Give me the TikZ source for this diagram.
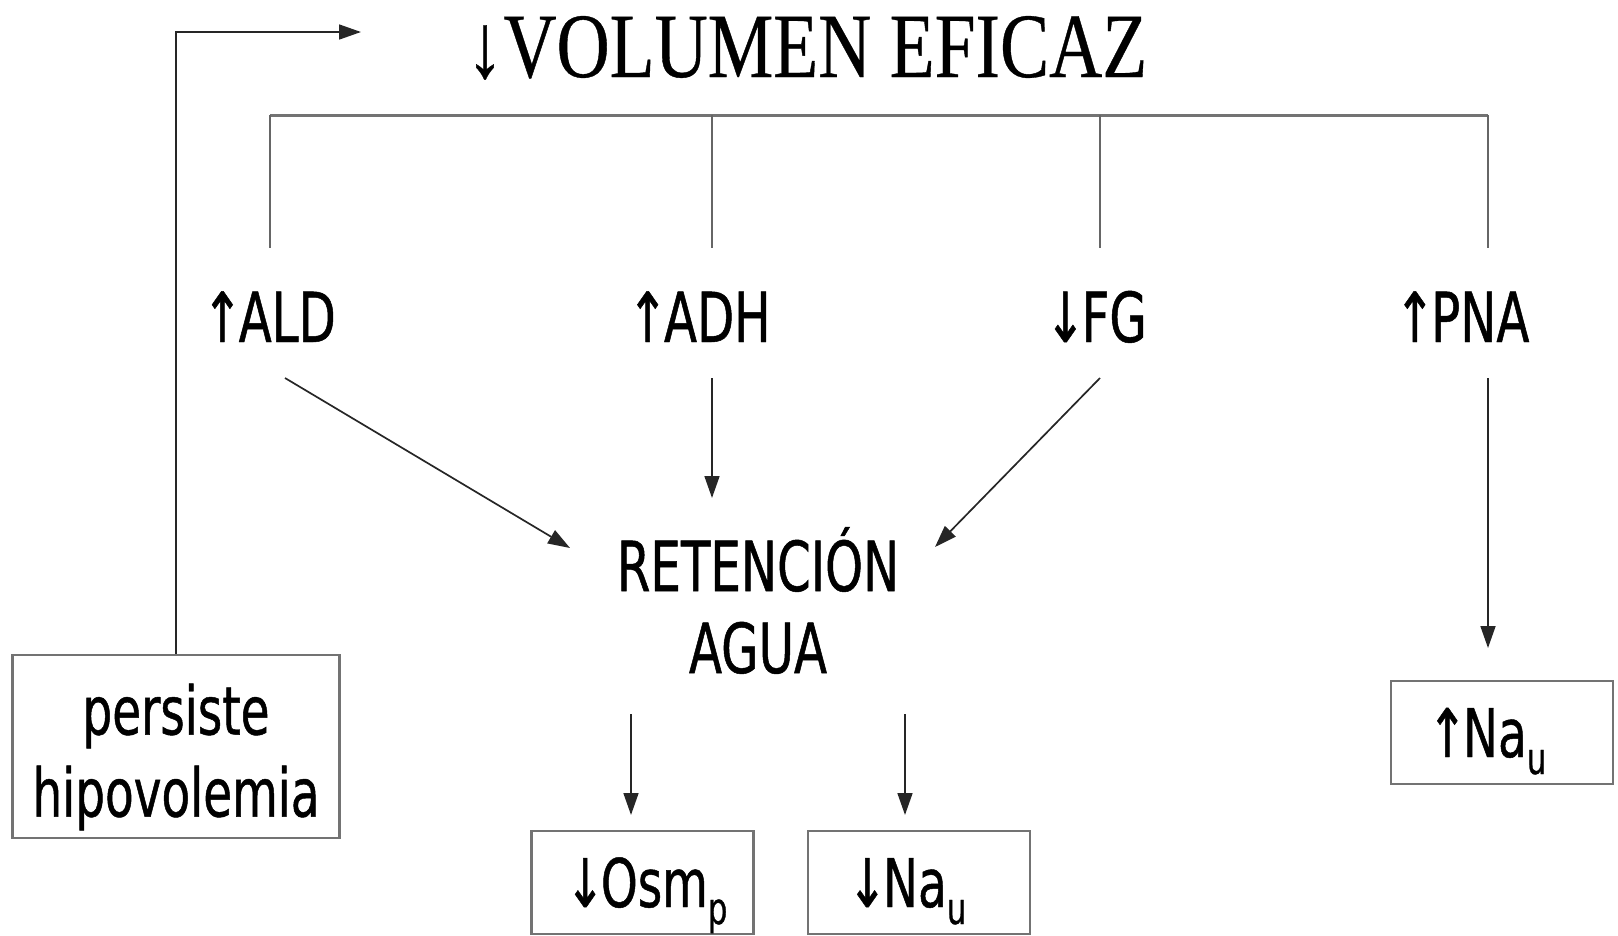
\documentclass[tikz,border=0pt]{standalone}
\usepackage{fontspec}
\setmainfont[FakeStretch=0.7,FakeBold=0.7]{DejaVu Sans}
\newfontfamily\titlefont[FakeStretch=0.8,FakeBold=0.4]{Liberation Serif}
\usetikzlibrary{arrows.meta}
\newcommand\lowsub[1]{\raisebox{-17pt}{\fontsize{44}{44}\selectfont #1}}
\begin{document}
\begin{tikzpicture}[x=1pt,y=-1pt,
  lbl/.style={font=\fontsize{69}{80}\selectfont, inner sep=0pt, anchor=base},
  ttl/.style={font=\titlefont\fontsize{92}{92}\selectfont, inner sep=0pt, anchor=base},
  box/.style={draw=black!55, line width=2.5pt, inner sep=0pt, font=\fontsize{67}{82}\selectfont},
  valbox/.style={box, anchor=base, minimum width=222pt, text height=76pt, text depth=27pt},
  arr/.style={-{Triangle[width=15pt,length=22pt]}, line width=1.7pt, draw=black!85},
  link/.style={line width=1.7pt, draw=black!60},
  bar/.style={line width=3pt, draw=black!55}]
\useasboundingbox (0,0) rectangle (1618,935);

% title
\node[ttl] (title) at (807,77) {↓VOLUMEN EFICAZ};

% distribution bar
\coordinate (b1) at (270,115);
\coordinate (b2) at (712,115);
\coordinate (b3) at (1100,115);
\coordinate (b4) at (1488,115);
\coordinate (d1) at (270,248);
\coordinate (d2) at (712,248);
\coordinate (d3) at (1100,248);
\coordinate (d4) at (1488,248);
\draw[bar] (b1) -- (b4);
\draw[link] (b1) -- (d1);
\draw[link] (b2) -- (d2);
\draw[link] (b3) -- (d3);
\draw[link] (b4) -- (d4);

% hormone labels
\node[lbl] (ald) at (269,342) {↑\kern-4pt ALD};
\node[lbl] (adh) at (699,342) {↑\kern-4pt ADH};
\node[lbl] (fg)  at (1096,342) {↓\kern-4pt FG};
\node[lbl] (pna) at (1462,342) {↑\kern-4pt PNA};

% water retention
\node[lbl] (ret)  at (758,591) {RETENCIÓN};
\node[lbl] (agua) at (758,673) {AGUA};

% boxes
\node[valbox] (osm) at (642.5,907) {↓\kern-4pt Osm\lowsub{p}\kern-8pt};
\node[valbox] (nad) at (919,907) {↓\kern-4pt Na\lowsub{u}\kern24pt};
\node[valbox] (nau) at (1502,757) {↑\kern-4pt Na\lowsub{u}\kern30pt};
\node[box, minimum width=327pt, minimum height=183pt, align=center] (hipo) at (176,746.5) {\rule{0pt}{72pt}persiste\\hipovolemia};

% arrow coordinates
\coordinate (aldo) at (285,378);
\coordinate (aldi) at (570,548);
\coordinate (adho) at (712,378);
\coordinate (adhi) at (712,498);
\coordinate (fgo)  at (1100,378);
\coordinate (fgi)  at (935,547);
\coordinate (pnao) at (1488,378);
\coordinate (pnai) at (1488,648);
\coordinate (ret1) at (631,714);
\coordinate (ret1i) at (631,815);
\coordinate (ret2) at (905,714);
\coordinate (ret2i) at (905,815);
\coordinate (fb) at (361,32);

\draw[arr] (aldo) -- (aldi);
\draw[arr] (adho) -- (adhi);
\draw[arr] (fgo) -- (fgi);
\draw[arr] (pnao) -- (pnai);
\draw[arr] (ret1) -- (ret1i);
\draw[arr] (ret2) -- (ret2i);
\draw[arr] (hipo.north) |- (fb);
\end{tikzpicture}
\end{document}
